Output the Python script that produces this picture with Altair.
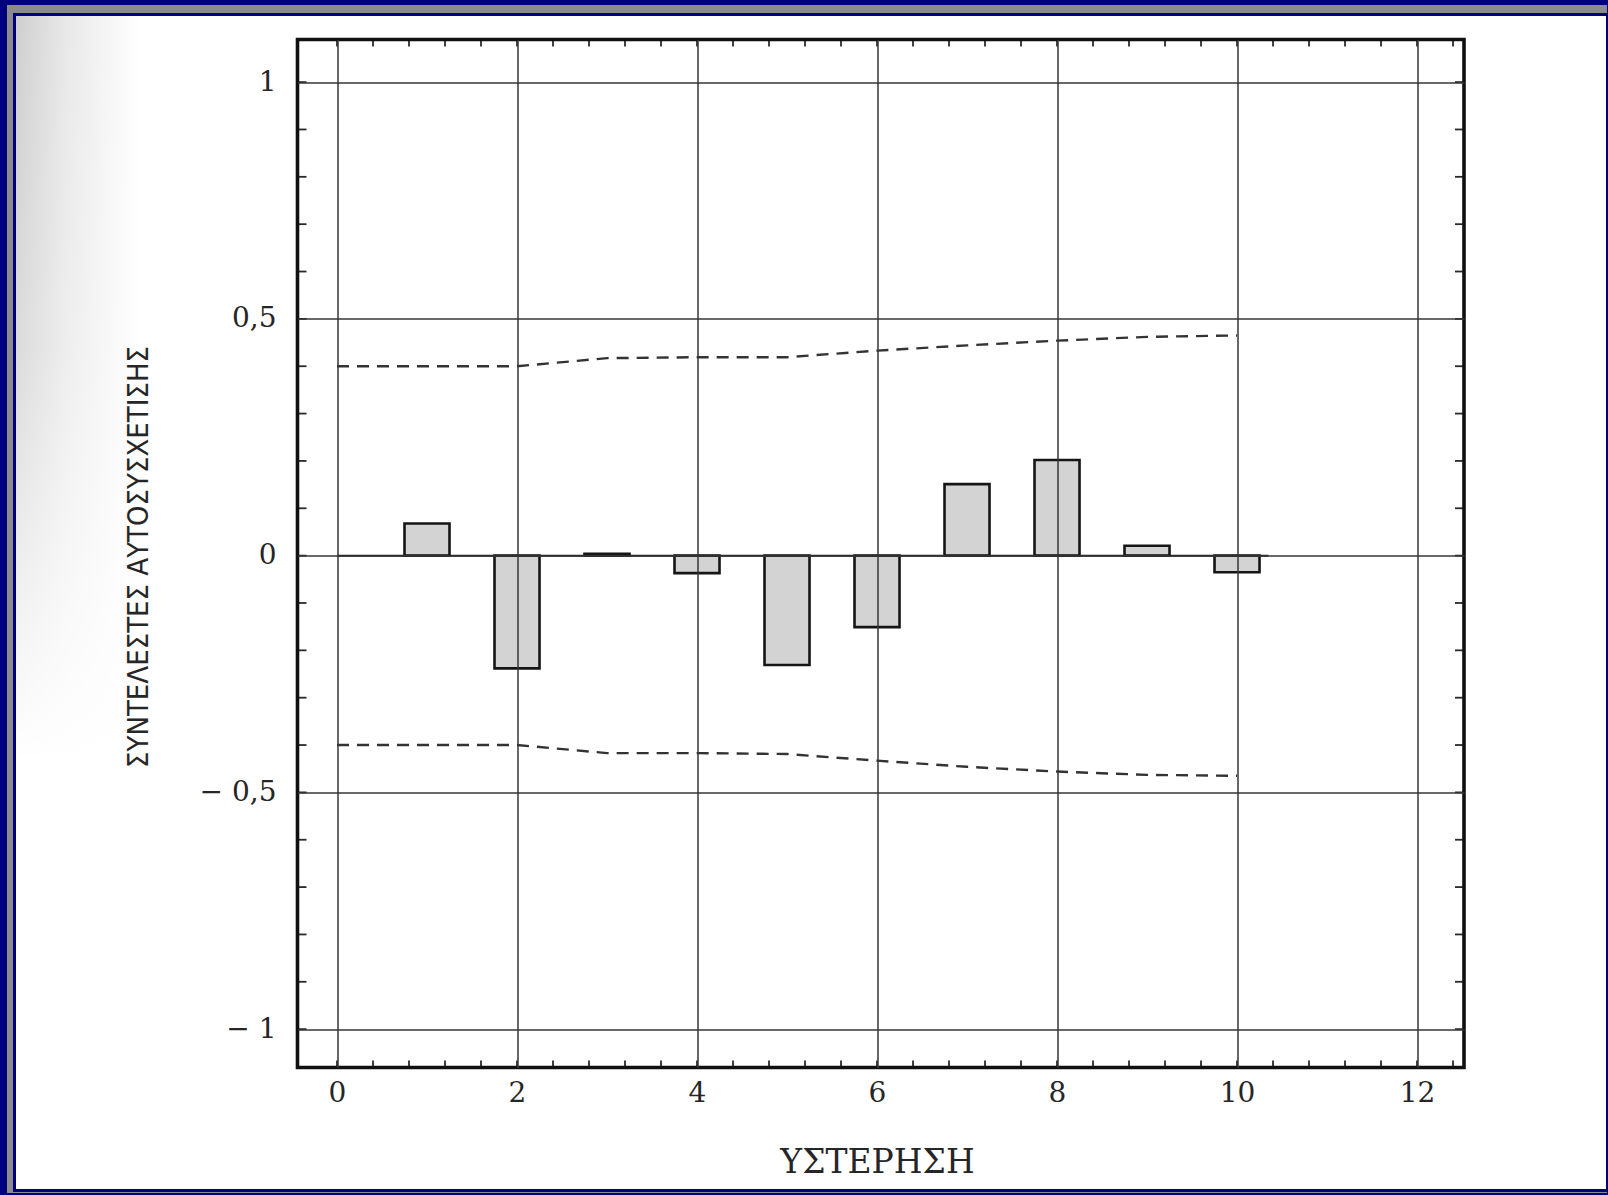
import altair as alt
import pandas as pd

# Sample autocorrelation coefficients, lags 1..10
lags = [1, 2, 3, 4, 5, 6, 7, 8, 9, 10]
acf = [0.068, -0.238, 0.004, -0.037, -0.231, -0.151, 0.151, 0.202, 0.021, -0.035]

# Approximate confidence limits (dashed), lag 0..10
band_lags = [0, 1, 2, 3, 4, 5, 6, 7, 8, 9, 10]
band_upper = [0.400, 0.400, 0.400, 0.417, 0.419, 0.419, 0.433, 0.444, 0.454, 0.462, 0.465]
band_lower = [-0.400, -0.400, -0.400, -0.417, -0.417, -0.419, -0.433, -0.446, -0.456, -0.463, -0.465]

# Axis ticks and their printed labels
x_ticks = [0, 2, 4, 6, 8, 10, 12]
x_tick_labels = ["0", "2", "4", "6", "8", "10", "12"]
y_ticks = [-1, -0.5, 0, 0.5, 1]
y_tick_labels = ["\u2212 1", "\u2212 0,5", "0", "0,5", "1"]

# Small inward ticks along the frame
x_minor = [round(0.4 * k, 1) for k in range(32)]
y_minor = [round(-1 + 0.1 * k, 1) for k in range(21)]

# Extent of the zero baseline drawn under the bars
baseline_span = [0, 10.35]
bar_width = 0.5

x_title = "ΥΣΤΕΡΗΣΗ"
y_title = "ΣΥΝΤΕΛΕΣΤΕΣ ΑΥΤΟΣΥΣΧΕΤΙΣΗΣ"

# ---- layout -------------------------------------------------------------
PAGE_W, PAGE_H = 1608, 1195
PAD_L, PAD_T = 297.5, 39.5
W, H = 1166.5, 1028
X_DOMAIN = [-0.439, 12.522]
Y_DOMAIN = [-1.081, 1.09]

INK = "#262626"
GRID = "#363636"
NAVY = "#00007e"


def label_expr(values, labels):
    parts = [f"datum.value == {v} ? '{l}'" for v, l in zip(values, labels)]
    return " : ".join(parts) + " : ''"


xscale = alt.Scale(domain=X_DOMAIN, nice=False, zero=False)
yscale = alt.Scale(domain=Y_DOMAIN, nice=False, zero=False)

xaxis = alt.Axis(
    values=x_ticks, labelExpr=label_expr(x_ticks, x_tick_labels),
    grid=True, gridColor=GRID, gridWidth=1.5, gridOpacity=1,
    ticks=False, tickSize=0, domain=False,
    labelFont="DejaVu Serif", labelFontSize=28, labelColor=INK,
    labelPadding=12, labelFlush=False, labelOverlap=False,
    title=x_title, titleFont="DejaVu Serif", titleFontSize=33,
    titleFontWeight="normal", titleColor=INK,
    titleX=579.5, titleY=94.5, titleBaseline="middle", titleAlign="center",
    zindex=1,
)
yaxis = alt.Axis(
    values=y_ticks, labelExpr=label_expr(y_ticks, y_tick_labels),
    grid=True, gridColor=GRID, gridWidth=1.3, gridOpacity=1,
    ticks=False, tickSize=0, domain=False,
    labelFont="DejaVu Serif", labelFontSize=28, labelColor=INK,
    labelPadding=21.5, labelAlign="right", labelBaseline="middle",
    labelFlush=False, labelOverlap=False,
    title=y_title, titleFont="Liberation Sans Narrow, DejaVu Sans Condensed, Liberation Sans",
    titleFontSize=29, titleFontWeight="normal", titleColor=INK,
    titleX=-159, titleY=517, titleAngle=270, titleBaseline="middle",
    titleAlign="center",
    zindex=1,
)


def X(field):
    return alt.X(field, type="quantitative", scale=xscale, axis=xaxis)


def Y(field):
    return alt.Y(field, type="quantitative", scale=yscale, axis=yaxis)


one_row = pd.DataFrame({"k": [0]})


def page_rect(x0, y0, x1, y1, **kw):
    """Rectangle given in page pixels (decoration around the plot)."""
    return alt.Chart(one_row).mark_rect(**kw).encode(
        x=alt.value(x0 - PAD_L), x2=alt.value(x1 - PAD_L),
        y=alt.value(y0 - PAD_T), y2=alt.value(y1 - PAD_T),
    )


def linear_fill(stops, horizontal=True):
    return alt.Gradient(
        gradient="linear",
        stops=[alt.GradientStop(color=c, offset=o) for o, c in stops],
        x1=0, y1=0, x2=1 if horizontal else 0, y2=0 if horizontal else 1,
    )


# Page border: grey bevel, thin navy line, white sheet
gray_edge = page_rect(7, 5, 1607, 1193, color="#8c8c8c")
navy_line = page_rect(13, 13, 1607, 1192, color=NAVY)
sheet = page_rect(16, 16, 1606, 1189, color="#ffffff")
# Faint grey shading in the upper-left margin of the sheet,
# fading out to the right and towards the bottom
haze = page_rect(
    16, 16, 140, 760,
    fill=linear_fill([(0, "#cfcfcf"), (0.4, "#e8e8e8"), (1, "#ffffff")]),
)
haze_fade = page_rect(
    16, 16, 140, 762,
    fill=linear_fill([(0, "rgba(255,255,255,0)"), (0.45, "rgba(255,255,255,0.25)"),
                      (1, "rgba(255,255,255,1)")], horizontal=False),
)

# Bars
bars_df = pd.DataFrame({"lag": lags, "acf": acf, "zero": [0] * len(lags)})
bars = alt.Chart(bars_df).mark_bar(
    fill="#d3d3d3", stroke="#151515", strokeWidth=2.6
).transform_calculate(
    lo=f"datum.lag - {bar_width / 2}", hi=f"datum.lag + {bar_width / 2}"
).encode(
    x=X("lo"), x2="hi", y=Y("acf"), y2="zero"
)

# Zero baseline
base_df = pd.DataFrame({"x0": [baseline_span[0]], "x1": [baseline_span[1]], "y0": [0]})
baseline = alt.Chart(base_df).mark_rule(color="#222222", strokeWidth=2).encode(
    x=X("x0"), x2="x1", y=Y("y0")
)

# Dashed confidence limits
band_df = pd.DataFrame({
    "lag": band_lags * 2,
    "bound": band_upper + band_lower,
    "side": ["upper"] * len(band_lags) + ["lower"] * len(band_lags),
})
bands = alt.Chart(band_df).mark_line(
    color="#333333", strokeWidth=2.4, strokeDash=[12, 8]
).encode(x=X("lag"), y=Y("bound"), detail="side:N")

# Inward ticks on the four sides of the frame
xm_df = pd.DataFrame({"v": x_minor})
ym_df = pd.DataFrame({"v": y_minor})
tick_style = dict(color="#2a2a2a", strokeWidth=1.8)
ticks_bottom = alt.Chart(xm_df).mark_rule(**tick_style).encode(
    x=X("v"), y=alt.value(H), y2=alt.value(H - 7))
ticks_top = alt.Chart(xm_df).mark_rule(**tick_style).encode(
    x=X("v"), y=alt.value(0), y2=alt.value(7))
ticks_left = alt.Chart(ym_df).mark_rule(**tick_style).encode(
    y=Y("v"), x=alt.value(0), x2=alt.value(9))
ticks_right = alt.Chart(ym_df).mark_rule(**tick_style).encode(
    y=Y("v"), x=alt.value(W), x2=alt.value(W - 9))

# Heavy plot frame
frame = alt.Chart(one_row).mark_rect(
    filled=False, stroke="#111111", strokeWidth=3.6
).encode(x=alt.value(0), x2=alt.value(W), y=alt.value(0), y2=alt.value(H))

chart = alt.layer(
    gray_edge, navy_line, sheet, haze, haze_fade,
    bars, baseline, bands,
    ticks_bottom, ticks_top, ticks_left, ticks_right,
    frame,
).properties(
    width=W, height=H,
    padding={"left": PAD_L, "top": PAD_T,
             "right": PAGE_W - PAD_L - W, "bottom": PAGE_H - PAD_T - H},
    autosize=alt.AutoSizeParams(type="none"),
    background=NAVY,
).configure_view(stroke=None)

chart.save("out.html", embed_options={"renderer": "svg", "actions": False})
